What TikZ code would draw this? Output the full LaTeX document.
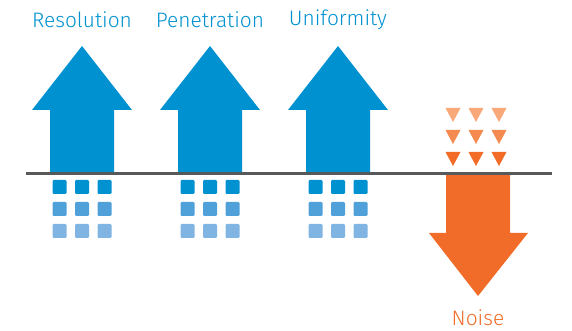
\documentclass[tikz,border=0pt]{standalone}
\usepackage{fontspec}
\setmainfont{Fira Sans Light}
\usepackage{tikz}
\definecolor{upblue}{RGB}{0,145,208}
\definecolor{sqblue1}{RGB}{0,145,208}
\definecolor{sqblue2}{RGB}{80,160,218}
\definecolor{sqblue3}{RGB}{128,180,227}
\definecolor{noiseorange}{RGB}{241,108,40}
\definecolor{tri1}{RGB}{249,168,122}
\definecolor{tri2}{RGB}{245,138,80}
\definecolor{tri3}{RGB}{242,108,40}
\definecolor{linegray}{RGB}{88,89,91}
\tikzstyle{label} = [font=\fontsize{11.9}{14}\selectfont, text=upblue, inner sep=0pt]
\tikzstyle{square} = [rounded corners=0.6pt]

\begin{document}
\begin{tikzpicture}[x=0.02cm, y=-0.02cm]
\useasboundingbox (0,0) rectangle (572,331);

% up arrows with their squares
\foreach \cx/\name in {82/Resolution, 210/Penetration, 338/Uniformity} {
  \fill[upblue] (\cx-32,173) -- (\cx-32,110) -- (\cx-50,110) -- (\cx,46)
    -- (\cx+50,110) -- (\cx+32,110) -- (\cx+32,173) -- cycle;
  \node[label] (\name) at (\cx,20) {\name};
  \foreach \row/\col in {187/sqblue1, 209/sqblue2, 231/sqblue3}
    \foreach \dx in {-22.5,0,22.5}
      \fill[\col, square] (\cx+\dx-7,\row-7) rectangle (\cx+\dx+7,\row+7);
}

% noise arrow
\fill[noiseorange] (446,174) -- (446,233) -- (429,233) -- (478,296)
  -- (528,233) -- (510,233) -- (510,174) -- cycle;
\node[label, text=noiseorange] (noise) at (478,318) {Noise};
\foreach \top/\col in {108/tri1, 130/tri2, 152/tri3}
  \foreach \tx in {453,476,499}
    \fill[\col] (\tx-7.5,\top) -- (\tx+7.5,\top) -- (\tx,\top+14) -- cycle;

% base line
\draw[linegray, line width=1.8pt] (26,173.8) -- (552,173.8);
\end{tikzpicture}
\end{document}
